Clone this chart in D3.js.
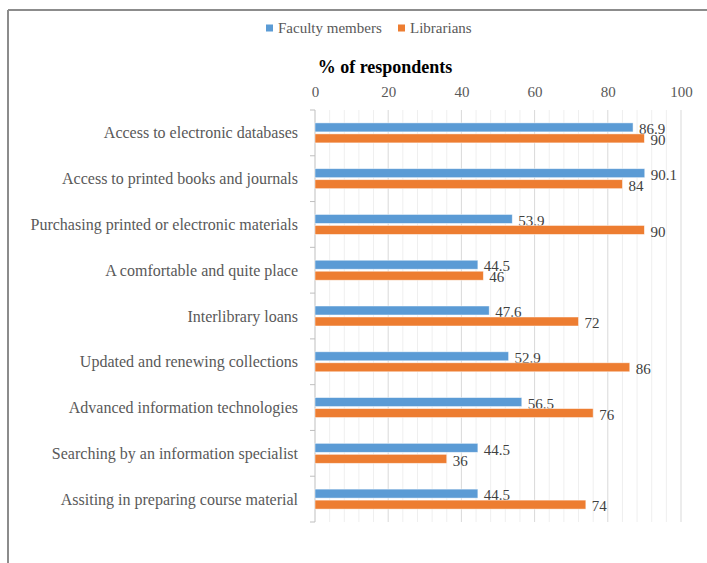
<!DOCTYPE html>
<html>
<head>
<meta charset="utf-8">
<script src="https://cdn.jsdelivr.net/npm/d3@7"></script>
<style>
  body { margin: 0; background: #fff; }
  svg { display: block; font-family: "Liberation Serif", "Times New Roman", serif; }
</style>
</head>
<body>
<div id="chart"></div>
<script>
// data
const categories = [
  "Access to electronic databases",
  "Access to printed books and journals",
  "Purchasing printed or electronic materials",
  "A comfortable and quite place",
  "Interlibrary loans",
  "Updated and renewing collections",
  "Advanced information technologies",
  "Searching by an information specialist",
  "Assiting in preparing course material"
];
const faculty = [86.9, 90.1, 53.9, 44.5, 47.6, 52.9, 56.5, 44.5, 44.5];
const librarians = [90, 84, 90, 46, 72, 86, 76, 36, 74];
const seriesNames = ["Faculty members", "Librarians"];
const colors = ["#5b9bd5", "#ed7d31"];
const xTicks = [0, 20, 40, 60, 80, 100];

const W = 707, H = 563;
const margin = {top: 110, right: 26, bottom: 41, left: 315};
const w = W - margin.left - margin.right,
      h = H - margin.top - margin.bottom;

const svg = d3.select("#chart").append("svg")
  .attr("width", W).attr("height", H);

// outer frame (top + left edges only, as in the picture)
svg.append("line").attr("x1", 8).attr("x2", W).attr("y1", 10).attr("y2", 10)
  .attr("stroke", "#8c8c8c").attr("stroke-width", 2);
svg.append("line").attr("x1", 8).attr("x2", 8).attr("y1", 10).attr("y2", H)
  .attr("stroke", "#8c8c8c").attr("stroke-width", 2);

const g = svg.append("g").attr("transform", `translate(${margin.left},${margin.top})`);

const x = d3.scaleLinear().domain([0, 100]).range([0, w]);
const y = d3.scaleBand().domain(categories).range([0, h]);

// minor grid every 4, major every 20
g.selectAll(".minor").data(d3.range(4, 100, 4).filter(v => v % 20))
  .enter().append("line")
  .attr("x1", d => x(d)).attr("x2", d => x(d))
  .attr("y1", 0).attr("y2", h)
  .attr("stroke", "#efefef");
g.selectAll(".major").data(xTicks.slice(1))
  .enter().append("line")
  .attr("x1", d => x(d)).attr("x2", d => x(d))
  .attr("y1", 0).attr("y2", h)
  .attr("stroke", "#d9d9d9");

// top tick labels
const xAxis = g.append("g")
  .call(d3.axisTop(x).tickValues(xTicks).tickSize(0).tickPadding(13));
xAxis.select(".domain").remove();
xAxis.selectAll("text").attr("fill", "#595959").style("font-size", "15px")
  .style("font-family", "Liberation Serif");

// left axis with ticks at band boundaries
g.append("line").attr("x1", 0).attr("x2", 0).attr("y1", 0).attr("y2", h)
  .attr("stroke", "#bfbfbf");
g.selectAll(".ytick").data(d3.range(categories.length + 1))
  .enter().append("line")
  .attr("x1", -5).attr("x2", 0)
  .attr("y1", i => i * y.step()).attr("y2", i => i * y.step())
  .attr("stroke", "#bfbfbf");

g.selectAll(".cat").data(categories)
  .enter().append("text")
  .attr("x", -17)
  .attr("y", d => y(d) + y.bandwidth() / 2)
  .attr("dy", "0.35em")
  .attr("text-anchor", "end")
  .attr("fill", "#595959")
  .style("font-size", "16px")
  .text(d => d);

const barH = 9;
const series = [faculty, librarians];
series.forEach((vals, s) => {
  const off = s === 0 ? -barH - 1 : 1;
  g.selectAll(".bar" + s).data(vals)
    .enter().append("rect")
    .attr("x", 0)
    .attr("y", (d, i) => y(categories[i]) + y.bandwidth() / 2 + off)
    .attr("width", d => x(d))
    .attr("height", barH)
    .attr("fill", colors[s])
    .attr("stroke", "#ffffff")
    .attr("stroke-opacity", 0.6)
    .attr("stroke-width", 0.8);
  g.selectAll(".lbl" + s).data(vals)
    .enter().append("text")
    .attr("x", d => x(d) + 6)
    .attr("y", (d, i) => y(categories[i]) + y.bandwidth() / 2 + off + barH / 2 + 1.5)
    .attr("dy", "0.35em")
    .attr("fill", "#404040")
    .style("font-size", "15px")
    .text(d => d);
});

// title
svg.append("text")
  .attr("x", 385).attr("y", 67)
  .attr("dy", "0.35em")
  .attr("text-anchor", "middle")
  .attr("fill", "#000")
  .style("font-size", "18px").style("font-weight", "bold")
  .text("% of respondents");

// legend
const legX = [266, 398];
const leg = svg.selectAll(".leg").data(seriesNames).enter().append("g")
  .attr("transform", (d, i) => `translate(${legX[i]},28)`);
leg.append("rect").attr("x", 0).attr("y", -3.5).attr("width", 7).attr("height", 7)
  .attr("fill", (d, i) => colors[i]);
leg.append("text").attr("x", 12).attr("y", 0).attr("dy", "0.35em")
  .attr("fill", "#595959").style("font-size", "15px")
  .text(d => d);
</script>
</body>
</html>
